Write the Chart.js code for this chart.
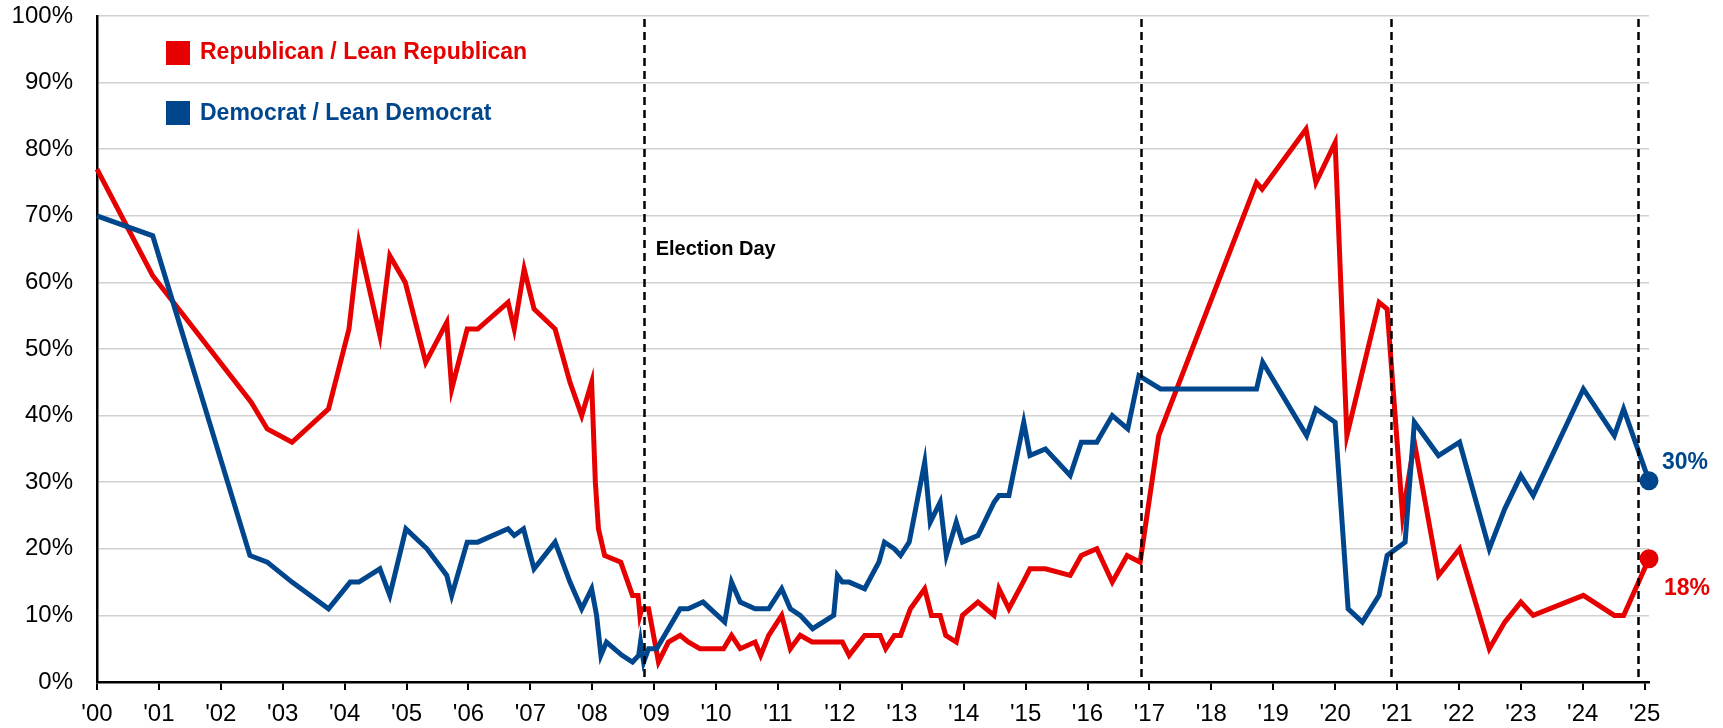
<!DOCTYPE html>
<html>
<head>
<meta charset="utf-8">
<script src="https://cdn.jsdelivr.net/npm/chart.js@4/dist/chart.umd.min.js"></script>
<style>
  html, body { margin: 0; padding: 0; background: #fff; }
  #wrap { width: 1723px; height: 728px; position: relative; }
</style>
</head>
<body>
<div id="wrap"><canvas id="c" width="1723" height="728"></canvas></div>
<script>
// ---- Data ----
const xTickValues = [2000,2001,2002,2003,2004,2005,2006,2007,2008,2009,2010,2011,2012,2013,2014,2015,2016,2017,2018,2019,2020,2021,2022,2023,2024,2025];
const xTickLabels = ["'00","'01","'02","'03","'04","'05","'06","'07","'08","'09","'10","'11","'12","'13","'14","'15","'16","'17","'18","'19","'20","'21","'22","'23","'24","'25"];

const repLabel = "Republican / Lean Republican";
const demLabel = "Democrat / Lean Democrat";

const repYears = [2000.0, 2000.9, 2002.49, 2002.75, 2003.15, 2003.74, 2004.07, 2004.23, 2004.57, 2004.73, 2004.98, 2005.31, 2005.65, 2005.73, 2005.98, 2006.15, 2006.64, 2006.74, 2006.9, 2007.06, 2007.4, 2007.64, 2007.83, 2007.99, 2008.05, 2008.1, 2008.2, 2008.46, 2008.65, 2008.74, 2008.77, 2008.8, 2008.91, 2009.07, 2009.23, 2009.42, 2009.55, 2009.74, 2010.12, 2010.25, 2010.39, 2010.63, 2010.72, 2010.85, 2011.06, 2011.2, 2011.36, 2011.55, 2012.04, 2012.15, 2012.4, 2012.65, 2012.74, 2012.88, 2012.98, 2013.14, 2013.37, 2013.48, 2013.62, 2013.71, 2013.88, 2013.98, 2014.23, 2014.49, 2014.57, 2014.73, 2014.96, 2015.07, 2015.32, 2015.72, 2015.9, 2016.15, 2016.4, 2016.64, 2016.85, 2017.15, 2018.73, 2018.82, 2019.53, 2019.69, 2020.0, 2020.19, 2020.71, 2020.84, 2021.09, 2021.28, 2021.67, 2022.01, 2022.49, 2022.74, 2023.0, 2023.2, 2024.01, 2024.51, 2024.66, 2025.07];
const repValues = [77, 61, 42, 38, 36, 41, 53, 66, 52, 64, 60, 48, 54, 44, 53, 53, 57, 53, 62, 56, 53, 45, 40, 45, 30, 23, 19, 18, 13, 13, 10, 11, 11, 3, 6, 7, 6, 5, 5, 7, 5, 6, 4, 7, 10, 5, 7, 6, 6, 4, 7, 7, 5, 7, 7, 11, 14, 10, 10, 7, 6, 10, 12, 10, 14, 11, 15, 17, 17, 16, 19, 20, 15, 19, 18, 37, 75, 74, 83, 75, 81, 37, 57, 56, 25, 36, 16, 20, 5, 9, 12, 10, 13, 10, 10, 18.5];

const demYears = [2000.0, 2000.9, 2002.47, 2002.75, 2003.15, 2003.74, 2004.09, 2004.23, 2004.57, 2004.73, 2004.99, 2005.33, 2005.65, 2005.73, 2005.98, 2006.15, 2006.64, 2006.74, 2006.89, 2007.06, 2007.4, 2007.64, 2007.83, 2007.99, 2008.07, 2008.14, 2008.23, 2008.48, 2008.65, 2008.75, 2008.78, 2008.83, 2008.91, 2009.04, 2009.42, 2009.55, 2009.79, 2010.14, 2010.25, 2010.39, 2010.63, 2010.85, 2011.06, 2011.2, 2011.36, 2011.56, 2011.9, 2011.96, 2012.04, 2012.15, 2012.4, 2012.63, 2012.72, 2012.88, 2012.98, 2013.12, 2013.37, 2013.46, 2013.62, 2013.72, 2013.88, 2013.98, 2014.23, 2014.49, 2014.57, 2014.73, 2014.97, 2015.07, 2015.32, 2015.72, 2015.9, 2016.15, 2016.4, 2016.65, 2016.83, 2017.18, 2018.73, 2018.83, 2019.54, 2019.69, 2020.0, 2020.21, 2020.44, 2020.71, 2020.84, 2021.13, 2021.28, 2021.67, 2022.01, 2022.49, 2022.74, 2023.0, 2023.2, 2024.01, 2024.51, 2024.66, 2025.07];
const demValues = [70, 67, 19, 18, 15, 11, 15, 15, 17, 13, 23, 20, 16, 13, 21, 21, 23, 22, 23, 17, 21, 15, 11, 14, 10, 4, 6, 4, 3, 4, 6, 3, 5, 5, 11, 11, 12, 9, 15, 12, 11, 11, 14, 11, 10, 8, 10, 16, 15, 15, 14, 18, 21, 20, 19, 21, 33, 24, 27, 19, 24, 21, 22, 27, 28, 28, 39, 34, 35, 31, 36, 36, 40, 38, 46, 44, 44, 48, 37, 41, 39, 11, 9, 13, 19, 21, 39, 34, 36, 20, 26, 31, 28, 44, 37, 41, 30.2];

const electionDates = [2008.83, 2016.87, 2020.91, 2024.9];
const electionLabel = "Election Day";
const repEndLabel = "18%";
const demEndLabel = "30%";

// ---- Styling ----
const RED = '#e60000';
const BLUE = '#00468c';
const FONT = '"Liberation Sans", Arial, Helvetica, sans-serif';

const toPoints = (xs, ys) => xs.map((v, i) => ({ x: v, y: ys[i] }));
const lastOnly = (n, r) => (ctx) => (ctx.dataIndex === n - 1 ? r : 0);

const annotPlugin = {
  id: 'annot',
  afterDatasetsDraw(chart) {
    const { ctx, chartArea, scales } = chart;
    const x = scales.x, y = scales.y;
    ctx.save();
    // election day dashed lines
    ctx.strokeStyle = '#000';
    ctx.lineWidth = 2.5;
    ctx.setLineDash([8, 5]);
    electionDates.forEach(d => {
      const px = Math.round(x.getPixelForValue(d)) + 0.5;
      ctx.beginPath();
      ctx.moveTo(px, chartArea.top + 3);
      ctx.lineTo(px, chartArea.bottom);
      ctx.stroke();
    });
    ctx.setLineDash([]);

    // Election Day label
    ctx.fillStyle = '#000';
    ctx.font = 'bold 20px ' + FONT;
    ctx.textAlign = 'left';
    ctx.textBaseline = 'middle';
    ctx.fillText(electionLabel, x.getPixelForValue(electionDates[0]) + 12, y.getPixelForValue(64.9));

    // Legend
    ctx.font = 'bold 23px ' + FONT;
    ctx.fillStyle = RED;
    ctx.fillRect(166, 41, 24, 24);
    ctx.fillText(repLabel, 200, 53);
    ctx.fillStyle = BLUE;
    ctx.fillRect(166, 101, 24, 24);
    ctx.fillText(demLabel, 200, 114);

    // End labels
    const mRep = chart.getDatasetMeta(1).data;
    const mDem = chart.getDatasetMeta(0).data;
    const pr = mRep[mRep.length - 1];
    const pd = mDem[mDem.length - 1];
    ctx.font = 'bold 23px ' + FONT;
    ctx.fillStyle = BLUE;
    ctx.fillText(demEndLabel, pd.x + 13, pd.y - 18);
    ctx.fillStyle = RED;
    ctx.fillText(repEndLabel, pr.x + 15, pr.y + 30);
    ctx.restore();
  }
};

new Chart(document.getElementById('c'), {
  type: 'line',
  data: {
    datasets: [
      {
        label: demLabel,
        data: toPoints(demYears, demValues),
        borderColor: BLUE,
        backgroundColor: BLUE,
        borderWidth: 5,
        tension: 0,
        borderJoinStyle: 'miter',
        pointRadius: lastOnly(demYears.length, 9.5),
        pointHoverRadius: lastOnly(demYears.length, 9.5),
        pointBorderWidth: 0,
        pointBackgroundColor: BLUE,
        clip: false
      },
      {
        label: repLabel,
        data: toPoints(repYears, repValues),
        borderColor: RED,
        backgroundColor: RED,
        borderWidth: 5,
        tension: 0,
        borderJoinStyle: 'miter',
        pointRadius: lastOnly(repYears.length, 9.5),
        pointHoverRadius: lastOnly(repYears.length, 9.5),
        pointBorderWidth: 0,
        pointBackgroundColor: RED,
        clip: false
      }
    ]
  },
  options: {
    responsive: false,
    devicePixelRatio: 1,
    animation: false,
    events: [],
    layout: { padding: { left: 0, top: 16, right: 74, bottom: 0 } },
    plugins: {
      legend: { display: false },
      tooltip: { enabled: false },
      title: { display: false }
    },
    scales: {
      x: {
        type: 'linear',
        min: 2000,
        max: 2025.07,
        afterBuildTicks: (scale) => { scale.ticks = xTickValues.map(v => ({ value: v })); },
        afterFit: (scale) => { scale.height = 46; scale.paddingLeft = 0; scale.paddingRight = 0; },
        ticks: {
          autoSkip: false,
          maxRotation: 0,
          padding: 10,
          color: '#000',
          font: { family: FONT, size: 24 },
          callback: (v) => { const i = xTickValues.indexOf(v); return i >= 0 ? xTickLabels[i] : ''; }
        },
        grid: {
          display: true,
          drawOnChartArea: false,
          drawTicks: true,
          tickLength: 8,
          tickColor: '#000',
          tickWidth: 2,
          lineWidth: 2,
          color: '#000'
        },
        border: { display: true, color: '#000', width: 2.5 }
      },
      y: {
        min: 0,
        max: 100,
        afterFit: (scale) => { scale.width = 97; scale.paddingTop = 0; scale.paddingBottom = 0; },
        ticks: {
          stepSize: 10,
          padding: 24,
          color: '#000',
          font: { family: FONT, size: 24 },
          callback: (v) => v + '%'
        },
        grid: {
          drawTicks: false,
          lineWidth: 1.5,
          color: (c) => (c.tick && c.tick.value === 0 ? 'rgba(0,0,0,0)' : '#d0d0d0')
        },
        border: { display: true, color: '#000', width: 2.5 }
      }
    }
  },
  plugins: [annotPlugin]
});
</script>
</body>
</html>
